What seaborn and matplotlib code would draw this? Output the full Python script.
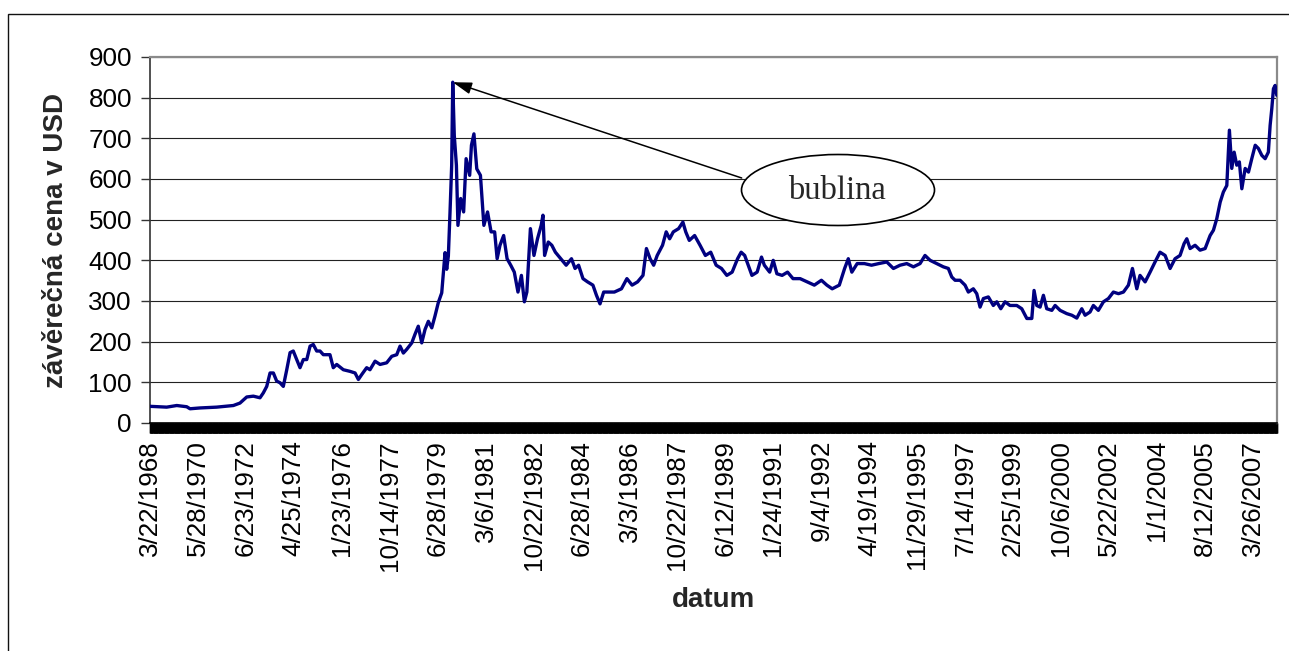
import matplotlib
matplotlib.use("Agg")
import matplotlib.pyplot as plt
from matplotlib.patches import Ellipse, Rectangle
from matplotlib.ticker import FixedLocator, MultipleLocator
import seaborn as sns
import pandas as pd

# ---- data (gold closing price) ----
# trading-day index within the daily series (category axis) and price in USD
day = [0, 141, 226, 310, 338, 422, 563, 704, 760, 817, 873, 929, 957, 986, 1014, 1042,
       1070, 1098, 1126, 1155, 1183, 1210, 1239, 1267, 1295, 1324, 1352, 1379, 1408, 1436,
       1464, 1520, 1548, 1577, 1633, 1689, 1732, 1760, 1788, 1830, 1858, 1901, 1943, 1999,
       2042, 2084, 2112, 2140, 2168, 2211, 2238, 2266, 2295, 2323, 2351, 2380, 2407, 2435,
       2464, 2492, 2506, 2520, 2534, 2548, 2557,
       2570, 2588, 2601, 2624, 2649, 2670, 2700, 2715, 2736, 2760, 2791, 2820, 2851, 2881,
       2911, 2932, 2956, 2987, 3016, 3047, 3077, 3108, 3137, 3162, 3183, 3213, 3243, 3273,
       3304, 3319, 3333, 3364, 3394, 3424, 3469, 3515, 3560, 3590, 3620, 3657, 3696, 3741,
       3771, 3801, 3832, 3876, 3922, 3982, 4028, 4072, 4118, 4164, 4193, 4224, 4254, 4284,
       4329, 4360, 4389, 4420, 4465, 4501, 4525, 4555, 4600, 4646, 4691, 4736, 4782, 4827,
       4872, 4917, 4963, 4993, 5023, 5053, 5084, 5128, 5165, 5189, 5234, 5264, 5295, 5339,
       5385, 5431, 5491, 5551, 5611, 5671, 5717, 5762, 5822, 5867, 5898, 5928, 5973, 6034,
       6094, 6155,
       6223, 6279, 6335, 6392, 6448, 6504, 6546, 6589, 6645, 6701, 6743, 6772, 6800, 6842,
       6884, 6912, 6954, 6983, 7011, 7039, 7081, 7123, 7152, 7186, 7222, 7264, 7321, 7363,
       7406, 7448, 7467, 7490, 7518, 7546, 7574, 7617, 7645, 7687, 7743, 7786, 7828, 7870,
       7898, 7940, 7968, 8010, 8053, 8095, 8137, 8180, 8222, 8264, 8298, 8335, 8362, 8405,
       8447, 8489, 8531, 8574, 8616, 8658, 8700, 8734, 8757, 8785, 8827, 8869, 8912, 8954,
       8982, 9010, 9039, 9066, 9095, 9117, 9137, 9157, 9179, 9201, 9222, 9250, 9278, 9306,
       9335, 9362, 9391, 9419, 9446, 9461, 9475, 9489, 9503, 9517]

price = [41, 39, 43, 40, 35, 37, 39, 43, 49, 64, 66, 62, 74, 90, 123, 123,
         103, 99, 90, 131, 173, 177, 156, 136, 156, 156, 189, 193, 177, 177,
         168, 168, 136, 144, 131, 127, 123, 107, 119, 136, 131, 152, 144, 148,
         164, 168, 189, 172, 181, 197, 218, 238, 197, 230, 250, 234, 263, 296,
         320, 419, 378, 411, 518, 633, 838,
         707, 634, 486, 552, 519, 650, 609, 683, 711, 625, 609, 486, 519, 470,
         470, 404, 437, 461, 404, 388, 371, 322, 363, 298, 322, 478, 412, 453,
         486, 511, 412, 445, 437, 420, 404, 388, 404, 380, 388, 355, 347, 339,
         314, 293, 322, 322, 322, 330, 355, 339, 347, 363, 429, 404, 388, 412,
         437, 470, 453, 470, 478, 494, 470, 449, 461, 437, 412, 420, 388, 380,
         363, 371, 404, 420, 412, 388, 363, 371, 408, 388, 371, 400, 367, 363,
         371, 355, 355, 347, 339, 351, 339, 330, 339, 380, 404, 371, 392, 392,
         388, 392,
         396, 380, 388, 392, 384, 392, 412, 400, 392, 384, 380, 359, 351, 351,
         339, 322, 330, 318, 285, 306, 310, 289, 298, 281, 298, 289, 289, 281,
         257, 257, 326, 289, 285, 314, 281, 277, 289, 277, 269, 265, 258, 281,
         265, 273, 289, 277, 298, 306, 322, 318, 322, 339, 380, 330, 363, 347,
         371, 396, 420, 412, 380, 404, 412, 441, 453, 429, 437, 425, 429, 461,
         474, 502, 543, 568, 584, 720, 626, 666, 634, 642, 576, 626, 617, 650,
         683, 675, 658, 650, 666, 732, 773, 822, 830, 806]

n_days = 9520          # number of categories in the daily series
label_step = 405       # a date label every 405 categories
tick_labels = ["3/22/1968", "5/28/1970", "6/23/1972", "4/25/1974", "1/23/1976",
               "10/14/1977", "6/28/1979", "3/6/1981", "10/22/1982", "6/28/1984",
               "3/3/1986", "10/22/1987", "6/12/1989", "1/24/1991", "9/4/1992",
               "4/19/1994", "11/29/1995", "7/14/1997", "2/25/1999", "10/6/2000",
               "5/22/2002", "1/1/2004", "8/12/2005", "3/26/2007"]
y_ticks = [0, 100, 200, 300, 400, 500, 600, 700, 800, 900]

peak_day = 2557
peak_price = 838

# ---- style ----
sns.set_theme(style="white")
plt.rcParams["font.family"] = ["Liberation Sans", "DejaVu Sans"]

fig = plt.figure(figsize=(12.89, 6.51), dpi=100, facecolor="white")
ax = fig.add_axes([150 / 1289, 1 - 423 / 651, 1127 / 1289, 366 / 651])

df = pd.DataFrame({"day": day, "price": price})
sns.lineplot(data=df, x="day", y="price", color="#000080", linewidth=2.4,
             ax=ax, sort=False, estimator=None, zorder=3)

ax.set_xlim(0, n_days - 1)
ax.set_ylim(0, 900)

# y axis
ax.set_yticks(y_ticks)
ax.set_yticklabels([str(v) for v in y_ticks], fontsize=18.7)
ax.tick_params(axis="y", direction="out", length=6.5, width=1.0, color="#333333",
               pad=6.5, left=True, labelcolor="black")
ax.yaxis.grid(True, color="#222222", linewidth=0.8)
ax.xaxis.grid(False)
ax.set_axisbelow(True)

# x axis: category ticks (dense) + date labels
xt = [k * label_step for k in range(len(tick_labels))]
ax.xaxis.set_major_locator(FixedLocator(xt))
ax.set_xticklabels(tick_labels, rotation=90, fontsize=18.7)
ax.xaxis.set_minor_locator(MultipleLocator(3))
ax.tick_params(axis="x", which="both", direction="out", length=7.3, width=1.0,
               color="black", bottom=True, pad=5)
ax.tick_params(axis="x", which="major", labelcolor="black")

# spines
ax.spines["left"].set_color("#333333")
ax.spines["left"].set_linewidth(1.2)
ax.spines["bottom"].set_color("black")
ax.spines["bottom"].set_linewidth(1.2)
ax.spines["right"].set_color("#8a8a8a")
ax.spines["right"].set_linewidth(1.6)
ax.spines["top"].set_color("#8a8a8a")
ax.spines["top"].set_linewidth(1.6)

# axis titles
ax.set_ylabel("závěrečná cena v USD", fontsize=20, fontweight="bold", va="center")
ax.yaxis.set_label_coords((56 - 150) / 1127, 0.5)
ax.set_xlabel("datum", fontsize=20, fontweight="bold", va="center")
ax.xaxis.set_label_coords(0.5, (423 - 600) / 366)

# annotation: arrow from the ellipse to the 1980 peak
ax.annotate("", xy=(peak_day, peak_price), xycoords="data",
            xytext=((741.7 - 150) / 1127, (423 - 178) / 366), textcoords="axes fraction",
            arrowprops=dict(arrowstyle="-|>,head_length=1.15,head_width=0.36",
                            mutation_scale=10, color="black", lw=1.1,
                            shrinkA=0, shrinkB=0), zorder=4)
ell = Ellipse(((838 - 150) / 1127, (423 - 190) / 366), 193 / 1127, 71 / 366,
              transform=ax.transAxes, facecolor="white", edgecolor="black",
              linewidth=1.2, zorder=5, clip_on=False)
ax.add_patch(ell)
ax.text((837 - 150) / 1127, (423 - 191) / 366, "bublina", transform=ax.transAxes,
        ha="center", va="center", fontsize=23.5,
        family=["Liberation Serif", "DejaVu Serif"], zorder=6)

# outer chart frame (left and top edges visible)
fig.patches.append(Rectangle((8 / 1289, -0.2), 1.5, 1 - 14 / 651 + 0.2,
                             transform=fig.transFigure, fill=False,
                             edgecolor="#111111", linewidth=1.0, zorder=0))

fig.savefig("out.png", dpi=100, facecolor="white")
